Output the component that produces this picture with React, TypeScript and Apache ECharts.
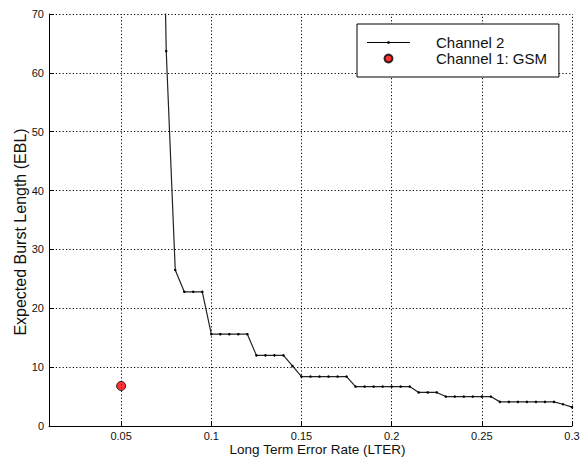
import React, { useEffect, useRef } from "react";
import * as echarts from "echarts";

const lterValues = [
  0.07, 0.075, 0.08, 0.085, 0.09, 0.095, 0.1, 0.105, 0.11, 0.115, 0.12, 0.125,
  0.13, 0.135, 0.14, 0.145, 0.15, 0.155, 0.16, 0.165, 0.17, 0.175, 0.18, 0.185,
  0.19, 0.195, 0.2, 0.205, 0.21, 0.215, 0.22, 0.225, 0.23, 0.235, 0.24, 0.245,
  0.25, 0.255, 0.26, 0.265, 0.27, 0.275, 0.28, 0.285, 0.29, 0.295, 0.3,
];
const eblValues = [
  150, 63.7, 26.5, 22.8, 22.8, 22.8, 15.6, 15.6, 15.6, 15.6, 15.6, 12.0,
  12.0, 12.0, 12.0, 10.2, 8.4, 8.4, 8.4, 8.4, 8.4, 8.4, 6.7, 6.7,
  6.7, 6.7, 6.7, 6.7, 6.7, 5.7, 5.7, 5.7, 5.0, 5.0, 5.0, 5.0,
  5.0, 5.0, 4.1, 4.1, 4.1, 4.1, 4.1, 4.1, 4.1, 3.7, 3.2,
];
const gsmPoint = [0.05, 6.8];
const xTicks = [0.05, 0.1, 0.15, 0.2, 0.25, 0.3];
const seriesNames = ["Channel 2", "Channel 1: GSM"];
const xAxisName = "Long Term Error Rate (LTER)";
const yAxisName = "Expected Burst Length (EBL)";

const FONT = "'Liberation Sans', Arial, Helvetica, sans-serif";
const dotted = { color: "#000", type: [1.2, 2.2] as number[], width: 1 };
const lineIcon = "path://M0,3.5L43,3.5L43,4.5L0,4.5Z M20.5,2.8L22.5,2.8L22.5,5.2L20.5,5.2Z";

export default function App() {
  const ref = useRef<HTMLDivElement>(null);
  useEffect(() => {
    if (!ref.current) return;
    const chart = echarts.init(ref.current, undefined, { renderer: "svg" });
    chart.setOption({
      animation: false,
      backgroundColor: "#fff",
      textStyle: { fontFamily: FONT, color: "#000" },
      grid: { left: 49, right: 9, top: 14, bottom: 36, containLabel: false, outerBoundsMode: "none" },
      legend: {
        data: [
          { name: seriesNames[0], icon: lineIcon },
          { name: seriesNames[1] },
        ],
        orient: "vertical",
        left: 357,
        top: 24,
        padding: [11, 12, 11, 10],
        itemWidth: 43,
        itemHeight: 8,
        itemGap: 1,
        borderColor: "#000",
        borderWidth: 1,
        backgroundColor: "#fff",
        textStyle: { fontFamily: FONT, fontSize: 15, color: "#111", padding: [0, 0, 0, 21], lineHeight: 15 },
      },
      xAxis: {
        type: "value",
        min: 0.01,
        max: 0.3,
        name: xAxisName,
        nameLocation: "middle",
        nameGap: 16,
        nameMoveOverlap: false,
        nameTextStyle: { fontFamily: FONT, fontSize: 13.5, color: "#111", padding: [0, 0, 0, 14] },
        axisLine: { show: true, onZero: false, lineStyle: { color: "#000", width: 1 } },
        axisTick: { show: true, inside: true, length: 5, customValues: xTicks, lineStyle: { color: "#000" } },
        axisLabel: {
          customValues: xTicks,
          margin: 4.5,
          fontFamily: FONT,
          fontSize: 11,
          color: "#111",
          formatter: (v: number) => String(Math.round(v * 100) / 100),
        },
        splitLine: { show: false },
      },
      yAxis: {
        type: "value",
        min: 0,
        max: 70,
        interval: 10,
        name: yAxisName,
        nameLocation: "middle",
        nameGap: 21,
        nameMoveOverlap: false,
        nameTextStyle: { fontFamily: FONT, fontSize: 16, color: "#111", padding: [0, 24, 0, 0] },
        axisLine: { show: true, lineStyle: { color: "#000", width: 1 } },
        axisTick: { show: true, inside: true, length: 5, lineStyle: { color: "#000" } },
        axisLabel: { margin: 5, fontFamily: FONT, fontSize: 11, color: "#111" },
        splitLine: { show: true, lineStyle: dotted },
      },
      series: [
        {
          name: seriesNames[0],
          type: "line",
          data: lterValues.map((x, i) => [x, eblValues[i]]),
          clip: true,
          symbol: "circle",
          symbolSize: 2.5,
          showSymbol: true,
          lineStyle: { color: "#222", width: 1.2 },
          itemStyle: { color: "#000" },
          z: 3,
          markLine: {
            silent: true,
            symbol: ["none", "none"],
            label: { show: false },
            lineStyle: dotted,
            emphasis: { disabled: true },
            data: xTicks.map((v) => ({ xAxis: v })),
            z: 1,
          },
        },
        {
          name: seriesNames[1],
          type: "scatter",
          data: [gsmPoint],
          symbol: "circle",
          symbolSize: 9,
          itemStyle: { color: "#ff0000", borderColor: "#000", borderWidth: 1 },
          z: 4,
        },
      ],
    });
    return () => chart.dispose();
  }, []);
  return (
    <div
      ref={ref}
      style={{ position: "absolute", left: 0, top: 0, width: 581, height: 462 }}
    />
  );
}
